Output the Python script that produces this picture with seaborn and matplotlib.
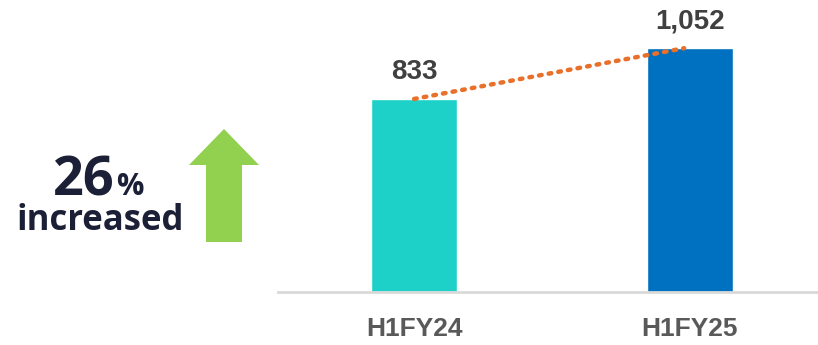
import matplotlib
matplotlib.use("Agg")
import matplotlib.pyplot as plt
import seaborn as sns
import pandas as pd
from matplotlib.patches import Polygon

categories = ["H1FY24", "H1FY25"]
values = [833, 1052]
value_labels = ["833", "1,052"]
bar_colors = ["#1DD1C8", "#0070C0"]

sns.set_theme(style="white")
plt.rcParams["font.family"] = ["Liberation Sans", "DejaVu Sans"]

W, H = 818, 345
fig = plt.figure(figsize=(W / 100, H / 100), dpi=100)
ax = fig.add_axes([278 / W, (H - 292) / H, (818 - 278) / W, 292 / H])

df = pd.DataFrame({"cat": categories, "val": values})
sns.barplot(data=df, x="cat", y="val", hue="cat", palette=bar_colors,
            width=0.312, legend=False, ax=ax, saturation=1)

ax.plot([0, 0.98], [values[0], values[1]], linestyle=(0, (0.6, 1.6)),
        color="#E8702A", linewidth=3.2, dash_capstyle="round")

for i, (v, lab) in enumerate(zip(values, value_labels)):
    ax.text(i, v + 60, lab, ha="center", va="bottom", fontsize=20,
            fontweight="bold", color="#404040")

ax.set_xlim(-0.494, 1.466)
ax.set_ylim(0, 1260)
ax.set_xlabel("")
ax.set_ylabel("")
ax.set_yticks([])
ax.tick_params(axis="x", length=0, pad=18, labelsize=19, labelcolor="#595959")
for lab in ax.get_xticklabels():
    lab.set_fontweight("bold")
for s in ["top", "right", "left"]:
    ax.spines[s].set_visible(False)
ax.spines["bottom"].set_color("#D9D9D9")
ax.spines["bottom"].set_linewidth(2)

# Left annotation
def fx(px):
    return px / W

def fy(py):
    return (H - py) / H

fig.text(fx(115), fy(195), "26", ha="right", va="baseline", fontsize=39,
         fontweight="bold", color="#1B2036", family=["Open Sans", "DejaVu Sans"])
fig.text(fx(116), fy(195), "%", ha="left", va="baseline", fontsize=22,
         fontweight="bold", color="#1B2036", family=["Open Sans", "DejaVu Sans"])
fig.text(fx(100), fy(230), "increased", ha="center", va="baseline", fontsize=25,
         fontweight="bold", color="#1B2036", family=["Open Sans", "DejaVu Sans"])

arrow_px = [(206, 242), (242, 242), (242, 165), (259, 165), (224, 129),
            (189, 165), (206, 165)]
arrow = Polygon([(fx(x), fy(y)) for x, y in arrow_px], closed=True,
                facecolor="#92D050", edgecolor="none", transform=fig.transFigure)
fig.add_artist(arrow)

fig.savefig("out.png", dpi=100)
